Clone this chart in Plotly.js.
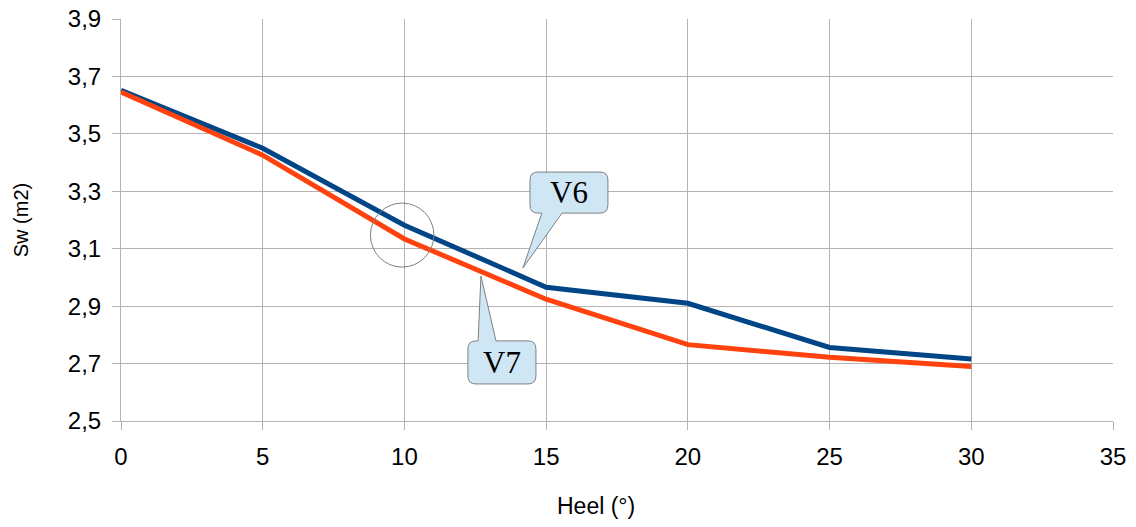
<!DOCTYPE html>
<html><head><meta charset="utf-8">
<script src="https://cdn.plot.ly/plotly-3.0.1.min.js"></script>
<style>html,body{margin:0;padding:0;background:#fff}#chart{width:1136px;height:527px}</style>
</head><body><div id="chart"></div>
<script>
const heel = [0, 5, 10, 15, 20, 25, 30];
const v6 = [3.652, 3.450, 3.182, 2.966, 2.910, 2.756, 2.716];
const v7 = [3.646, 3.426, 3.134, 2.924, 2.766, 2.722, 2.690];
const seriesNames = ['V6', 'V7'];
const yTicks = [2.5, 2.7, 2.9, 3.1, 3.3, 3.5, 3.7, 3.9];
const xTicks = [0, 5, 10, 15, 20, 25, 30, 35];
const xTitle = 'Heel (°)';
const yTitle = 'Sw (m2)';

const gridCol = '#b3b3b3';
const traces = [
  {x: heel, y: v6, name: seriesNames[0], mode: 'lines', line: {color: '#004586', width: 5}},
  {x: heel, y: v7, name: seriesNames[1], mode: 'lines', line: {color: '#ff420e', width: 5}}
];

function bubble(x0, x1, y0, y1, rx, ry, tail, tailTop) {
  let p = `M ${x0+rx} ${y1} `;
  if (tailTop) {
    p += `L ${tail[0]} ${y1} L ${tail[2]} ${tail[3]} L ${tail[1]} ${y1} `;
  }
  p += `L ${x1-rx} ${y1} Q ${x1} ${y1} ${x1} ${y1-ry} L ${x1} ${y0+ry} Q ${x1} ${y0} ${x1-rx} ${y0} `;
  if (!tailTop) {
    p += `L ${tail[1]} ${y0} L ${tail[2]} ${tail[3]} L ${tail[0]} ${y0} `;
  }
  p += `L ${x0+rx} ${y0} Q ${x0} ${y0} ${x0} ${y0+ry} L ${x0} ${y1-ry} Q ${x0} ${y1} ${x0+rx} ${y1} Z`;
  return p;
}

const sans = 'Liberation Sans, Arial, sans-serif';
const tickFont = {family: sans, size: 24, color: '#000'};

const layout = {
  width: 1136, height: 527,
  margin: {l: 121, r: 23, t: 19, b: 106},
  paper_bgcolor: '#fff', plot_bgcolor: '#fff',
  separators: ', ',
  showlegend: false,
  font: {family: sans, color: '#000', size: 19},
  xaxis: {
    range: [0, 35], tickvals: xTicks, ticktext: xTicks.map(String),
    showgrid: true, gridcolor: gridCol, gridwidth: 1,
    showline: true, linecolor: gridCol, linewidth: 1,
    ticks: 'outside', ticklen: 8, tickcolor: gridCol, tickfont: tickFont,
    ticklabelstandoff: 6, zeroline: false
  },
  yaxis: {
    range: [2.5, 3.9], tickvals: yTicks, ticktext: yTicks.map(v => v.toFixed(1).replace('.', ',')),
    showgrid: true, gridcolor: gridCol, gridwidth: 1,
    showline: true, linecolor: gridCol, linewidth: 1,
    ticks: 'outside', ticklen: 8, tickcolor: gridCol, tickfont: tickFont,
    ticklabelstandoff: 6, zeroline: false,
    title: {text: yTitle, font: {family: sans, size: 20, color: '#000'}, standoff: 33}
  },
  shapes: [
    {type: 'circle', xref: 'x', yref: 'y', x0: 8.80, x1: 11.04, y0: 3.036, y1: 3.259,
     line: {color: '#808080', width: 1}, fillcolor: 'rgba(0,0,0,0)'},
    {type: 'path', xref: 'x', yref: 'y',
     path: bubble(14.43, 17.18, 3.224, 3.367, 0.28, 0.028, [14.85, 15.56, 14.18, 3.033], false),
     fillcolor: '#cfe7f5', line: {color: '#7f7f7f', width: 1}},
    {type: 'path', xref: 'x', yref: 'y',
     path: bubble(12.24, 14.64, 2.629, 2.779, 0.28, 0.028, [12.60, 13.23, 12.70, 3.005], true),
     fillcolor: '#cfe7f5', line: {color: '#7f7f7f', width: 1}}
  ],
  annotations: [
    {x: 15.80, y: 3.295, xref: 'x', yref: 'y', text: seriesNames[0], showarrow: false,
     font: {family: 'Liberation Serif, Times New Roman, serif', size: 31, color: '#000'}},
    {x: 13.44, y: 2.704, xref: 'x', yref: 'y', text: seriesNames[1], showarrow: false,
     font: {family: 'Liberation Serif, Times New Roman, serif', size: 31, color: '#000'}},
    {x: 0.479, y: -0.211, xref: 'paper', yref: 'paper', text: xTitle, showarrow: false,
     xanchor: 'center', yanchor: 'middle', font: {family: sans, size: 23, color: '#000'}}
  ]
};
Plotly.newPlot('chart', traces, layout, {displayModeBar: false, staticPlot: true});
</script></body></html>
